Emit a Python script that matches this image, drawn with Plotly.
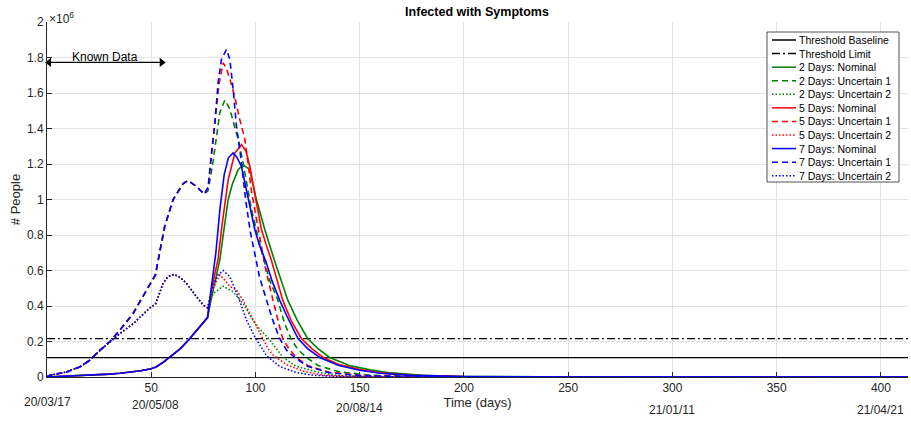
import plotly.graph_objects as go

# ---------------- data (people in millions, x = days since 2020-03-17) ----------------
x_max = 413

threshold_baseline = 0.109
threshold_limit = 0.216

# Shared "known data" part of the curves (identical for 2, 5 and 7 days)
nominal_known_days = [0, 5, 10, 15, 20, 25, 30, 35, 40, 45, 50, 52.5, 56, 60, 64, 68, 72, 77]
nominal_known_vals = [0.0, 0.002, 0.004, 0.006, 0.009, 0.012, 0.016, 0.021, 0.027, 0.035, 0.047,
                      0.058, 0.085, 0.12, 0.16, 0.21, 0.265, 0.335]

unc1_known_days = [0, 1.4, 5, 9.4, 15.8, 20, 25.4, 30.2, 35, 41.3, 47.8, 52, 54, 56.5, 60.5,
                   65.3, 67.7, 71.7, 75.5]
unc1_known_vals = [0.0, 0.01, 0.018, 0.028, 0.057, 0.09, 0.15, 0.2, 0.265, 0.358, 0.49, 0.575,
                   0.7, 0.85, 1.0, 1.09, 1.107, 1.073, 1.03]

unc2_known_days = [0, 1.4, 5, 9.4, 15.8, 20, 25.4, 30.2, 35, 41.3, 45, 49.4, 52, 55.7, 58, 61,
                   64, 66.9, 71.7, 75, 77]
unc2_known_vals = [0.0, 0.01, 0.018, 0.028, 0.057, 0.09, 0.15, 0.2, 0.245, 0.3, 0.34, 0.39, 0.41,
                   0.528, 0.565, 0.578, 0.56, 0.528, 0.452, 0.405, 0.39]

# 2 days
d2_nom_days = [79, 82.9, 85, 86.9, 89, 91.7, 94, 97.3, 100, 104.5, 109, 112, 115.5, 120, 125, 130,
               135.6, 145, 155, 165, 180, 200, 250, 413]
d2_nom_vals = [0.45, 0.66, 0.84, 1.0, 1.09, 1.168, 1.196, 1.168, 1.02, 0.83, 0.66, 0.55, 0.433,
               0.32, 0.217, 0.16, 0.11, 0.065, 0.04, 0.023, 0.01, 0.003, 0.0004, 0.0]
d2_unc1_days = [77.3, 79.5, 81.3, 82.9, 85.3, 87.7, 90, 91.7, 94, 95.7, 98, 101, 104, 107, 110.7,
                114, 117, 120, 124.4, 130, 140, 155, 180, 220, 413]
d2_unc1_vals = [1.05, 1.2, 1.34, 1.49, 1.56, 1.51, 1.41, 1.34, 1.21, 1.09, 0.95, 0.8, 0.66, 0.54,
                0.433, 0.3, 0.217, 0.16, 0.11, 0.065, 0.03, 0.01, 0.002, 0.0003, 0.0]
d2_unc2_days = [79.7, 84.5, 89.3, 94, 98.8, 102, 106.8, 113.2, 119.6, 130.8, 140, 155, 180, 413]
d2_unc2_vals = [0.47, 0.512, 0.48, 0.415, 0.32, 0.27, 0.21, 0.11, 0.06, 0.025, 0.008, 0.002,
                0.0004, 0.0]

# 5 days
d5_nom_days = [79, 82, 84, 86.9, 90.1, 93.3, 95.5, 97.3, 100, 102.9, 105, 107.7, 110, 113.1, 117,
               122, 127, 132.4, 140, 150, 160, 175, 200, 250, 413]
d5_nom_vals = [0.5, 0.66, 0.86, 1.11, 1.262, 1.309, 1.27, 1.186, 1.01, 0.83, 0.75, 0.655, 0.56,
               0.433, 0.32, 0.217, 0.16, 0.11, 0.07, 0.042, 0.023, 0.01, 0.002, 0.0003, 0.0]
d5_unc1_days = [77.3, 79, 81, 82.5, 84.5, 86, 87.7, 90, 92.5, 94.9, 96.5, 98, 100, 102.9, 105,
                108.4, 113, 116, 119.6, 125, 135, 150, 175, 220, 413]
d5_unc1_vals = [1.07, 1.26, 1.48, 1.65, 1.77, 1.74, 1.68, 1.58, 1.45, 1.34, 1.2, 1.05, 0.92, 0.73,
                0.6, 0.433, 0.217, 0.16, 0.11, 0.065, 0.028, 0.009, 0.002, 0.0003, 0.0]
d5_unc2_days = [79.7, 82.9, 85, 87.7, 90.9, 94, 98.8, 103.6, 106, 108.4, 114.8, 122.8, 132.4, 145,
                170, 413]
d5_unc2_vals = [0.5, 0.575, 0.55, 0.51, 0.49, 0.433, 0.32, 0.215, 0.16, 0.125, 0.07, 0.033, 0.01,
                0.003, 0.0005, 0.0]

# 7 days
d7_nom_days = [79, 81, 83, 85, 87, 89.3, 91, 93.3, 95, 97, 99.7, 102, 105, 108, 111.6, 115, 120.4,
               125, 130.8, 140, 150, 160, 175, 200, 250, 413]
d7_nom_vals = [0.52, 0.7, 0.95, 1.14, 1.235, 1.262, 1.24, 1.186, 1.09, 0.98, 0.83, 0.74, 0.65,
               0.54, 0.433, 0.345, 0.217, 0.16, 0.11, 0.065, 0.038, 0.021, 0.009, 0.002, 0.0003,
               0.0]
d7_unc1_days = [77.3, 78.9, 80.5, 82.1, 83.7, 86.1, 87.7, 89.3, 90.9, 92.5, 94, 95.5, 97.5, 99.7,
                102, 105.3, 108, 111.6, 115, 118.8, 125, 135, 150, 175, 220, 413]
d7_unc1_vals = [1.07, 1.26, 1.43, 1.66, 1.79, 1.845, 1.79, 1.62, 1.41, 1.28, 1.11, 0.98, 0.82,
                0.69, 0.56, 0.433, 0.33, 0.217, 0.15, 0.11, 0.06, 0.025, 0.008, 0.002, 0.0003, 0.0]
d7_unc2_days = [79.7, 82, 84.5, 87.7, 91.7, 95.7, 99.7, 105.3, 111.6, 119.6, 127.6, 140, 160, 413]
d7_unc2_vals = [0.52, 0.575, 0.6, 0.565, 0.452, 0.32, 0.226, 0.12, 0.06, 0.025, 0.01, 0.003,
                0.0005, 0.0]

legend_names = ["Threshold Baseline", "Threshold Limit",
                "2 Days: Nominal", "2 Days: Uncertain 1", "2 Days: Uncertain 2",
                "5 Days: Nominal", "5 Days: Uncertain 1", "5 Days: Uncertain 2",
                "7 Days: Nominal", "7 Days: Uncertain 1", "7 Days: Uncertain 2"]

x_tick_vals = [50, 100, 150, 200, 250, 300, 350, 400]
y_tick_vals = [0, 0.2, 0.4, 0.6, 0.8, 1, 1.2, 1.4, 1.6, 1.8, 2]
y_tick_text = ["0", "0.2", "0.4", "0.6", "0.8", "1", "1.2", "1.4", "1.6", "1.8", "2"]

date_label_days = [0, 52, 150, 300, 400]
date_labels = ["20/03/17", "20/05/08", "20/08/14", "21/01/11", "21/04/21"]

known_data_span = [1, 55]
known_data_level = 1.772

# ---------------- styling / layout ----------------
W, H = 911, 422
ML, MR, MT, MB = 47, 3, 22, 45
PW = W - ML - MR
PH = H - MT - MB
FONT = "Liberation Sans, Arial, Helvetica, sans-serif"
TXT = "#262626"


def pxx(px):
    return (px - ML) / PW


def pxy(py):
    return (H - MB - py) / PH


GREEN, RED, BLUE = "#008000", "#ff0000", "#0000ff"
DASH = "6px,4px"
DOT = "1.5px,2px"
DASHDOT = "8px,3px,2px,3px"

series = [
    (legend_names[2], nominal_known_days + d2_nom_days, nominal_known_vals + d2_nom_vals, GREEN, "solid"),
    (legend_names[3], unc1_known_days + d2_unc1_days, unc1_known_vals + d2_unc1_vals, GREEN, DASH),
    (legend_names[4], unc2_known_days + d2_unc2_days, unc2_known_vals + d2_unc2_vals, GREEN, DOT),
    (legend_names[5], nominal_known_days + d5_nom_days, nominal_known_vals + d5_nom_vals, RED, "solid"),
    (legend_names[6], unc1_known_days + d5_unc1_days, unc1_known_vals + d5_unc1_vals, RED, DASH),
    (legend_names[7], unc2_known_days + d5_unc2_days, unc2_known_vals + d5_unc2_vals, RED, DOT),
    (legend_names[8], nominal_known_days + d7_nom_days, nominal_known_vals + d7_nom_vals, BLUE, "solid"),
    (legend_names[9], unc1_known_days + d7_unc1_days, unc1_known_vals + d7_unc1_vals, BLUE, DASH),
    (legend_names[10], unc2_known_days + d7_unc2_days, unc2_known_vals + d7_unc2_vals, BLUE, DOT),
]

fig = go.Figure()
fig.add_trace(go.Scatter(x=[0, x_max], y=[threshold_baseline, threshold_baseline], mode="lines",
                         name=legend_names[0], line=dict(color="black", width=1.3),
                         showlegend=False))
fig.add_trace(go.Scatter(x=[0, x_max], y=[threshold_limit, threshold_limit], mode="lines",
                         name=legend_names[1], line=dict(color="black", width=1.3, dash=DASHDOT),
                         showlegend=False))
for name, xs, ys, col, dash in series:
    fig.add_trace(go.Scatter(x=xs, y=ys, mode="lines", name=name,
                             line=dict(color=col, width=1.6, dash=dash), showlegend=False))

# Known Data double arrow
fig.add_trace(go.Scatter(x=known_data_span, y=[known_data_level, known_data_level],
                         mode="lines+markers", name="Known Data",
                         line=dict(color="black", width=1.3),
                         marker=dict(symbol=["triangle-left", "triangle-right"], size=8,
                                     color="black"),
                         cliponaxis=False, showlegend=False, hoverinfo="skip"))

annotations = []
shapes = []

# custom legend (compact like the original)
legend_styles = [("black", "solid"), ("black", DASHDOT)] + [(s[3], s[4]) for s in series]
box_l, box_r, box_t, box_b = 767, 899, 32, 182
shapes.append(dict(type="rect", xref="paper", yref="paper", x0=pxx(box_l), x1=pxx(box_r),
                   y0=pxy(box_b), y1=pxy(box_t), line=dict(color="#262626", width=0.8),
                   fillcolor="white", layer="above"))
row0, row_step = 40, 13.57
for i, (nm, (col, dash)) in enumerate(zip(legend_names, legend_styles)):
    py = row0 + i * row_step
    shapes.append(dict(type="line", xref="paper", yref="paper", x0=pxx(772), x1=pxx(796),
                       y0=pxy(py), y1=pxy(py), line=dict(color=col, width=1.5, dash=dash),
                       layer="above"))
    annotations.append(dict(text=nm, xref="paper", yref="paper", x=pxx(797), y=pxy(py),
                            xanchor="left", yanchor="middle", showarrow=False,
                            font=dict(size=10.5, color="black", family=FONT)))

annotations.append(dict(x=28, y=pxy(57), xref="x", yref="paper",
                        text="Known Data", showarrow=False, xanchor="center", yanchor="middle",
                        font=dict(size=12, color="black", family=FONT)))

# date labels under the axis
date_py = [402, 405, 408, 410, 410]
for d, lab, py in zip(date_label_days, date_labels, date_py):
    annotations.append(dict(x=d, y=pxy(py), xref="x", yref="paper", text=lab, showarrow=False,
                            xanchor="center", yanchor="middle",
                            font=dict(size=12, color=TXT, family=FONT)))

# exponent label
annotations.append(dict(x=pxx(47), y=pxy(18), xref="paper", yref="paper",
                        text="\u00d710<sup>6</sup>", showarrow=False, xanchor="left",
                        yanchor="middle", font=dict(size=12, color=TXT, family=FONT)))

fig.update_layout(
    width=W, height=H,
    margin=dict(l=ML, r=MR, t=MT, b=MB, pad=0),
    paper_bgcolor="white", plot_bgcolor="white",
    font=dict(family=FONT, color=TXT, size=12),
    title=dict(text="<b>Infected with Symptoms</b>", x=pxx(477), xref="paper", xanchor="center",
               y=1 - 12 / H, yref="container", yanchor="middle",
               font=dict(size=12.5, color="black", family=FONT)),
    showlegend=False,
    annotations=annotations,
    shapes=shapes,
)
fig.update_xaxes(range=[0, x_max], tickvals=x_tick_vals, ticks="inside", ticklen=5,
                 tickcolor=TXT, showline=True, linecolor=TXT, linewidth=1, showgrid=True,
                 gridcolor="#e3e3e3", gridwidth=1, zeroline=False, mirror=False,
                 tickfont=dict(size=12, color=TXT, family=FONT),
                 title=dict(text="Time (days)", standoff=2,
                            font=dict(size=13, color=TXT, family=FONT)))
fig.update_yaxes(range=[0, 2], tickvals=y_tick_vals, ticktext=y_tick_text, ticks="inside",
                 ticklen=5, tickcolor=TXT, showline=True, linecolor=TXT, linewidth=1,
                 showgrid=True, gridcolor="#e3e3e3", gridwidth=1, zeroline=False, mirror=False,
                 tickfont=dict(size=12, color=TXT, family=FONT),
                 title=dict(text="# People", standoff=3, font=dict(size=13, color=TXT, family=FONT)))

fig.write_html("out.html")
